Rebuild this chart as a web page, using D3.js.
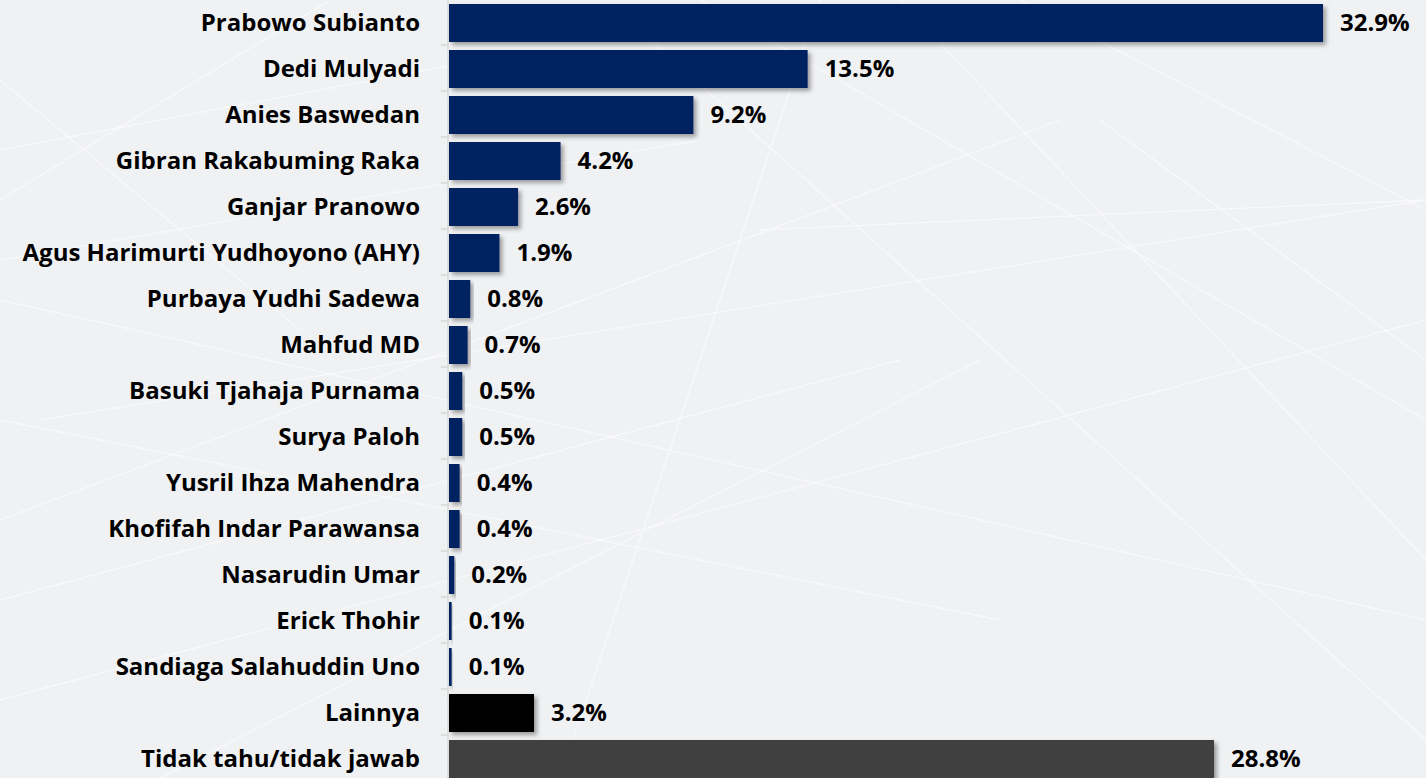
<!DOCTYPE html>
<html>
<head>
<meta charset="utf-8">
<script src="https://cdn.jsdelivr.net/npm/d3@7"></script>
<style>
  html, body { margin: 0; padding: 0; background: #f0f1f3; overflow: hidden; }
  svg { display: block; }
  text { font-family: "Open Sans", "Liberation Sans", sans-serif; font-weight: 700; fill: #000; }
</style>
</head>
<body>
<svg id="chart" width="1426" height="778"></svg>
<script>
// Candidate names, top to bottom
const categories = [
  "Prabowo Subianto", "Dedi Mulyadi", "Anies Baswedan", "Gibran Rakabuming Raka",
  "Ganjar Pranowo", "Agus Harimurti Yudhoyono (AHY)", "Purbaya Yudhi Sadewa",
  "Mahfud MD", "Basuki Tjahaja Purnama", "Surya Paloh", "Yusril Ihza Mahendra",
  "Khofifah Indar Parawansa", "Nasarudin Umar", "Erick Thohir",
  "Sandiaga Salahuddin Uno", "Lainnya", "Tidak tahu/tidak jawab"
];
// Share of respondents (%)
const values = [32.9, 13.5, 9.2, 4.2, 2.6, 1.9, 0.8, 0.7, 0.5, 0.5, 0.4, 0.4, 0.2, 0.1, 0.1, 3.2, 28.8];
// Bar fill per category group
const groups = ["name","name","name","name","name","name","name","name","name","name","name","name","name","name","name","other","unknown"];
const groupColors = { name: "#002060", other: "#000000", unknown: "#404040" };

const svg = d3.select("#chart");
const W = 1426, H = 778;

// Faint network-style backdrop
const bg = svg.append("g").attr("class", "backdrop");
const netLines = [
  [0, 150, 480, 60], [0, 260, 700, 140], [40, 420, 1426, 200], [0, 600, 900, 360],
  [700, 0, 1426, 420], [1020, 0, 1426, 210], [0, 300, 1426, 620], [330, 0, 0, 200],
  [900, 0, 1426, 560], [0, 520, 1060, 120], [160, 778, 980, 360], [820, 0, 560, 778],
  [0, 700, 1426, 320], [640, 30, 1426, 740], [0, 420, 1000, 620], [1100, 120, 1426, 360],
  [760, 230, 1426, 200], [0, 80, 300, 330]
];
bg.selectAll("line").data(netLines).join("line")
  .attr("x1", d => d[0]).attr("y1", d => d[1])
  .attr("x2", d => d[2]).attr("y2", d => d[3])
  .attr("stroke", "#ffffff").attr("stroke-width", 1.3).attr("stroke-opacity", 0.55);

// Drop shadow under bars
const defs = svg.append("defs");
const f = defs.append("filter").attr("id", "shadow")
  .attr("x", "-5%").attr("y", "-20%").attr("width", "120%").attr("height", "160%");
f.append("feDropShadow").attr("dx", 3).attr("dy", 3).attr("stdDeviation", 2)
  .attr("flood-color", "#000").attr("flood-opacity", 0.35);

const x0 = 449;
const x = d3.scaleLinear().domain([0, 32.9]).range([x0, 1323]);
const y = d3.scaleBand().domain(categories).range([0, 782]).paddingInner(0.174).paddingOuter(0.087);

// Category axis
const axis = svg.append("g").attr("transform", `translate(${x0 - 1},0)`);
axis.append("line").attr("y1", 0).attr("y2", H).attr("stroke", "#d9d9d9").attr("stroke-width", 1.5);
const step = y.step();
axis.selectAll("line.tick").data(d3.range(categories.length + 1)).join("line")
  .attr("class", "tick")
  .attr("x1", -7).attr("x2", 0)
  .attr("y1", i => i * step - 1).attr("y2", i => i * step - 1)
  .attr("stroke", "#d9d9d9").attr("stroke-width", 1.5);

// Bars
svg.append("g").selectAll("rect").data(values).join("rect")
  .attr("x", x0)
  .attr("y", (d, i) => y(categories[i]))
  .attr("width", d => x(d) - x0)
  .attr("height", y.bandwidth())
  .attr("fill", (d, i) => groupColors[groups[i]])
  .attr("filter", "url(#shadow)");

// Category labels
svg.append("g").selectAll("text").data(categories).join("text")
  .attr("x", 420)
  .attr("y", d => y(d) + y.bandwidth() / 2)
  .attr("dy", "0.35em")
  .attr("text-anchor", "end")
  .attr("font-size", 24)
  .text(d => d);

// Value labels
svg.append("g").selectAll("text").data(values).join("text")
  .attr("x", d => x(d) + 17)
  .attr("y", (d, i) => y(categories[i]) + y.bandwidth() / 2)
  .attr("dy", "0.35em")
  .attr("font-size", 24)
  .text(d => d.toFixed(1) + "%");
</script>
</body>
</html>
